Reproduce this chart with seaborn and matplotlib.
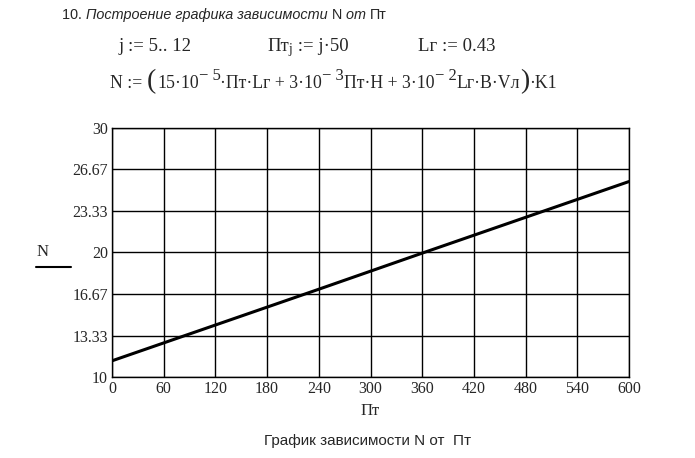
import matplotlib
matplotlib.use("Agg")
import matplotlib.pyplot as plt
import seaborn as sns
import pandas as pd
from matplotlib.lines import Line2D

# values
pt_vals = [0, 240, 360, 600]
n_vals = [11.3, 17.05, 19.95, 25.7]
x_ticks = [0, 60, 120, 180, 240, 300, 360, 420, 480, 540, 600]
y_ticks = [10, 13.33, 16.67, 20, 23.33, 26.67, 30]
y_labels = ["10", "13.33", "16.67", "20", "23.33", "26.67", "30"]

W, H = 695, 458
SERIF = "Liberation Serif"
SANS = "Liberation Sans"

sns.set_style("white")
plt.rcParams["font.family"] = [SERIF, "DejaVu Sans"]

fig = plt.figure(figsize=(W / 100, H / 100), dpi=100)
fig.patch.set_facecolor("white")
ax = fig.add_axes([112 / W, 1 - 377 / H, 517 / W, 249 / H])

df = pd.DataFrame({"Pt": pt_vals, "N": n_vals})
sns.lineplot(data=df, x="Pt", y="N", ax=ax, color="black", linewidth=2.2)

ax.set_xlim(0, 600)
ax.set_ylim(10, 30)
ax.set_xticks(x_ticks)
ax.set_xticklabels([str(v) for v in x_ticks], fontsize=11.5, family=SERIF)
ax.set_yticks(y_ticks)
ax.set_yticklabels(y_labels, fontsize=11.5, family=SERIF)
ax.tick_params(length=0, pad=3)
ax.grid(True, color="black", linewidth=1)
for s in ax.spines.values():
    s.set_color("black")
    s.set_linewidth(1)
ax.set_xlabel("")
ax.set_ylabel("")


def px(x, y):
    return x / W, 1 - y / H


renderer = fig.canvas.get_renderer()


def run(x, y, pieces, size, family):
    # draw text pieces one after another along a baseline (pixel coords)
    for s, opts in pieces:
        dy = opts.get("dy", 0)
        t = fig.text(*px(x, y - dy), s, fontsize=opts.get("size", size),
                     family=family, style=opts.get("style", "normal"),
                     va="baseline", ha="left")
        bb = t.get_window_extent(renderer)
        x += bb.width + opts.get("gap", 0)


run(62, 19, [("10. ", {}), ("Построение графика зависимости ", {"style": "italic"}),
             ("N ", {}), ("от ", {"style": "italic"}), ("Пт", {})], 10.4, SANS)

run(119, 51, [("j := 5.. 12", {})], 13.5, SERIF)
run(267, 51, [("Пт", {}), ("j", {"size": 10, "dy": -2}), (" := j·50", {})], 13.5, SERIF)
run(418, 51, [("Lг := 0.43", {})], 13.5, SERIF)

run(110, 88, [("N := ", {}), ("(", {"size": 20, "gap": 1}), ("15·10", {}),
              ("− 5", {"size": 12, "dy": 8}),
              ("·Пт·Lг + 3·10", {}), ("− 3", {"size": 12, "dy": 8}),
              ("Пт·H + 3·10", {}), ("− 2", {"size": 12, "dy": 8}),
              ("Lг·B·Vл", {}), (")", {"size": 20}), ("·K1", {})], 12.8, SERIF)

fig.text(*px(43, 252), "N", fontsize=12, family=SERIF, ha="center", va="center")
fig.add_artist(Line2D([36 / W, 71 / W], [1 - 267 / H, 1 - 267 / H], color="black", linewidth=1.5))

fig.text(*px(370, 411), "Пт", fontsize=12, family=SERIF, ha="center", va="center")
fig.text(*px(368, 441), "График зависимости N от  Пт", fontsize=11, family=SANS,
         ha="center", va="center")

fig.savefig("out.png", dpi=100)
